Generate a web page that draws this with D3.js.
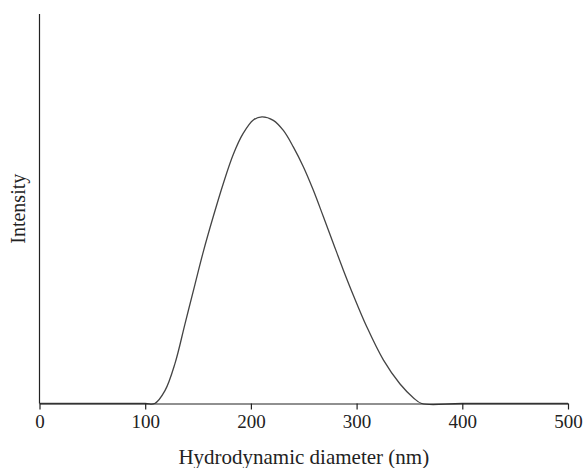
<!DOCTYPE html>
<html><head><meta charset="utf-8">
<script src="https://cdn.jsdelivr.net/npm/d3@7"></script>
<style>body{margin:0;background:#fff}svg{display:block}</style>
</head><body>
<svg id="c" width="587" height="468"></svg>
<script>
const diameter = [0, 60, 100, 109, 118.7, 128.2, 137.6, 147.1, 155, 164.4, 173.9, 183.4, 192.8, 202.3, 210.5, 221.2, 230.7, 240.1, 249.6, 259, 268.5, 278, 287.4, 296.9, 309.6, 325.3, 341.1, 353.6, 361.6, 400, 500];
const intensity = [0, 0, 0, 0, 3.3, 10.3, 20.4, 30.6, 39, 48.0, 56.5, 64.0, 69.4, 72.8, 73.6, 72.7, 70.1, 65.9, 60.8, 54.8, 48.0, 41.1, 34.3, 27.8, 19.7, 11.2, 5.0, 1.5, 0, 0, 0];
const xTicks = [0, 100, 200, 300, 400, 500];
const xTitle = "Hydrodynamic diameter (nm)";
const yTitle = "Intensity";

const svg = d3.select("#c");
const m = {l: 39.5, r: 19, t: 14, b: 64.5};
const W = 587, H = 468;
const x = d3.scaleLinear().domain([0, 500]).range([m.l, W - m.r]);
const y = d3.scaleLinear().domain([0, 100]).range([H - m.b, m.t]);
const font = "'Liberation Serif', 'DejaVu Serif', serif";

const data = diameter.map((d, i) => ({x: d, y: intensity[i]}));

svg.append("path").datum(data)
  .attr("fill", "none").attr("stroke", "#444").attr("stroke-width", 1.3)
  .attr("d", d3.line().x(d => x(d.x)).y(d => y(Math.max(0, d.y))).curve(d3.curveCatmullRom.alpha(0.5)));

const xa = svg.append("g").attr("transform", `translate(0,${y(0)})`)
  .call(d3.axisBottom(x).tickValues(xTicks).tickSize(6).tickSizeOuter(0).tickPadding(5));
xa.select(".domain").attr("stroke", "#222").attr("stroke-width", 1.2);
xa.selectAll("line").attr("stroke", "#222").attr("stroke-width", 1.2);
xa.selectAll("text").attr("font-family", font).attr("font-size", 19).attr("fill", "#222");

svg.append("line").attr("x1", x(0)).attr("x2", x(0)).attr("y1", y(100)).attr("y2", y(0))
  .attr("stroke", "#222").attr("stroke-width", 1.2);

svg.append("text").attr("x", (x(0) + x(500)) / 2).attr("y", 464)
  .attr("text-anchor", "middle").attr("font-family", font).attr("font-size", 21).attr("fill", "#222")
  .text(xTitle);
svg.append("text").attr("transform", `translate(25,${(y(0) + y(100)) / 2}) rotate(-90)`)
  .attr("text-anchor", "middle").attr("font-family", font).attr("font-size", 20).attr("fill", "#222")
  .text(yTitle);
</script>
</body></html>
